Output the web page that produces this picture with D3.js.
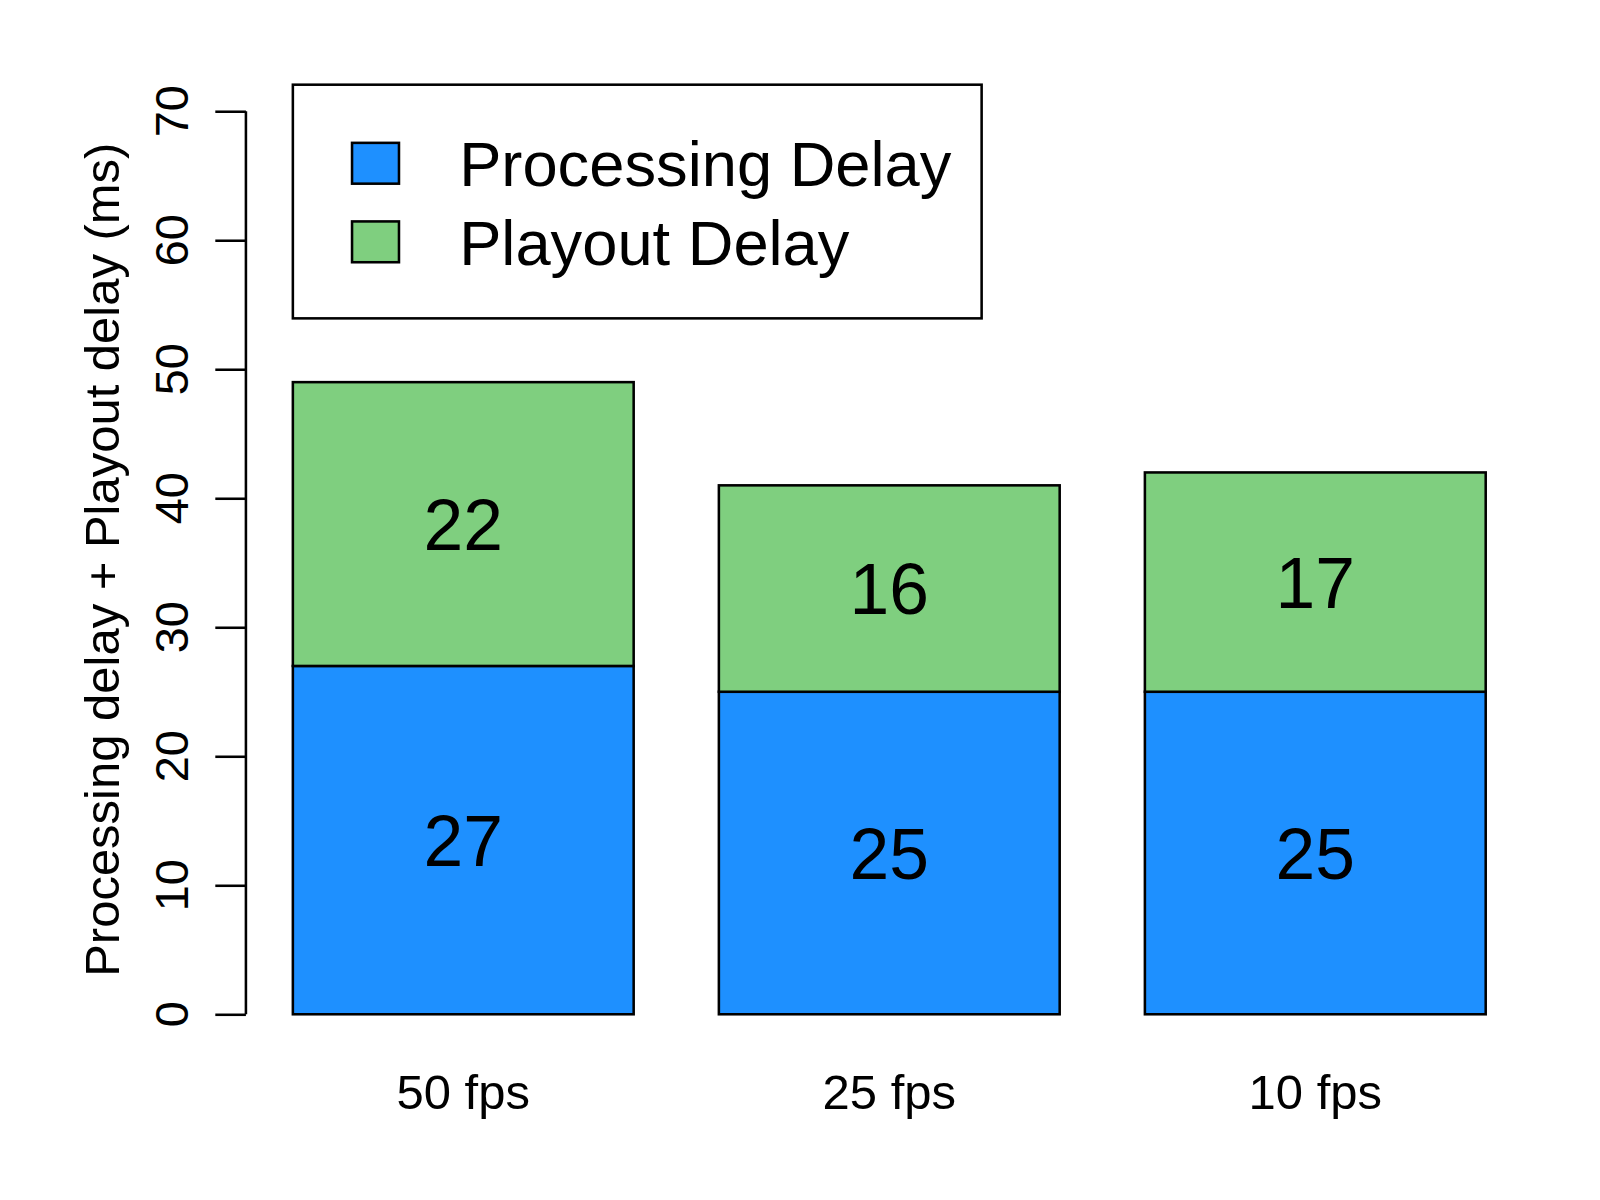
<!DOCTYPE html>
<html>
<head>
<meta charset="utf-8">
<script src="https://cdn.jsdelivr.net/npm/d3@7"></script>
<style>
  body { margin: 0; background: #fff; }
  text { font-family: "Liberation Sans", Arial, sans-serif; fill: #000; }
</style>
</head>
<body>
<div id="chart"></div>
<script>
// DATA
const categories = ["50 fps", "25 fps", "10 fps"];
const processing = [27, 25, 25];
const playout = [22, 16, 17];
const seriesNames = ["Processing Delay", "Playout Delay"];
const seriesColors = ["#1E90FF", "#7FCF7F"];
const yTicks = [0, 10, 20, 30, 40, 50, 60, 70];

const W = 1600, H = 1200;
const svg0 = d3.select("#chart").append("svg")
    .attr("width", W).attr("height", H);
const svg = svg0.append("g").attr("transform", "scale(1.0204)");

const y = d3.scaleLinear().domain([0, 70]).range([994, 109]);
const x = d3.scaleBand().domain(categories).range([287, 1456]).paddingInner(0.2).paddingOuter(0);

// y axis
const yAxis = svg.append("g").attr("transform", "translate(241,0)")
    .call(d3.axisLeft(y).tickValues(yTicks).tickSize(30).tickPadding(0).tickFormat(() => ""));
yAxis.select(".domain").attr("d", `M0,${y(0)}V${y(70)}`).attr("stroke", "#000").attr("stroke-width", 2.5);
yAxis.selectAll(".tick line").attr("stroke", "#000").attr("stroke-width", 2.5);

svg.selectAll(".ylab").data(yTicks).join("text")
    .attr("transform", d => `translate(184,${y(d)}) rotate(-90)`)
    .attr("text-anchor", "middle")
    .attr("font-size", 46)
    .text(d => d);

svg.append("text")
    .attr("transform", `translate(117,${(y(0) + y(70)) / 2 - 3}) rotate(-90)`)
    .attr("text-anchor", "middle")
    .attr("font-size", 48)
    .text("Processing delay + Playout delay (ms)");

// bars
const stacks = categories.map((c, i) => ({
    cat: c,
    segs: [
        { v: processing[i], y0: 0, y1: processing[i], color: seriesColors[0] },
        { v: playout[i], y0: processing[i], y1: processing[i] + playout[i], color: seriesColors[1] }
    ]
}));

const g = svg.selectAll(".bar").data(stacks).join("g");
g.selectAll("rect").data(d => d.segs.map(s => ({ ...s, cat: d.cat }))).join("rect")
    .attr("x", d => x(d.cat))
    .attr("width", x.bandwidth())
    .attr("y", d => y(d.y1))
    .attr("height", d => y(d.y0) - y(d.y1))
    .attr("fill", d => d.color)
    .attr("stroke", "#000").attr("stroke-width", 2.5);
g.selectAll(".val").data(d => d.segs.map(s => ({ ...s, cat: d.cat }))).join("text")
    .attr("x", d => x(d.cat) + x.bandwidth() / 2)
    .attr("y", d => (y(d.y0) + y(d.y1)) / 2)
    .attr("dy", "0.36em")
    .attr("text-anchor", "middle")
    .attr("font-size", 70)
    .text(d => d.v);

// x labels
svg.selectAll(".xlab").data(categories).join("text")
    .attr("x", d => x(d) + x.bandwidth() / 2)
    .attr("y", 1087)
    .attr("text-anchor", "middle")
    .attr("font-size", 48)
    .text(d => d);

// legend
svg.append("rect").attr("x", 287).attr("y", 83).attr("width", 675).attr("height", 229)
    .attr("fill", "none").attr("stroke", "#000").attr("stroke-width", 2.5);
const lg = svg.selectAll(".lg").data(seriesNames).join("g")
    .attr("transform", (d, i) => `translate(345,${160 + i * 77})`);
lg.append("rect").attr("x", 0).attr("y", -20).attr("width", 46).attr("height", 40)
    .attr("fill", (d, i) => seriesColors[i]).attr("stroke", "#000").attr("stroke-width", 2.5);
lg.append("text").attr("x", 105).attr("dy", "0.36em").attr("font-size", 62).text(d => d);
</script>
</body>
</html>
